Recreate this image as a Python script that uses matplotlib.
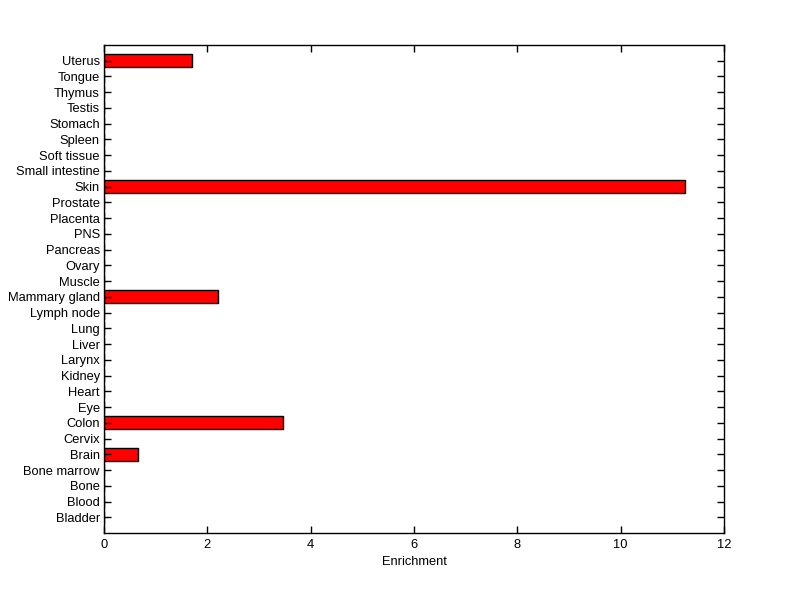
import matplotlib
matplotlib.use("Agg")
import matplotlib.pyplot as plt

categories = ["Bladder", "Blood", "Bone", "Bone marrow", "Brain", "Cervix", "Colon", "Eye",
              "Heart", "Kidney", "Larynx", "Liver", "Lung", "Lymph node", "Mammary gland",
              "Muscle", "Ovary", "Pancreas", "PNS", "Placenta", "Prostate", "Skin",
              "Small intestine", "Soft tissue", "Spleen", "Stomach", "Testis", "Thymus",
              "Tongue", "Uterus"]
values = [0, 0, 0, 0, 0.66, 0, 3.46, 0, 0, 0, 0, 0, 0, 0, 2.21,
          0, 0, 0, 0, 0, 0, 11.25, 0, 0, 0, 0, 0, 0, 0, 1.71]
xticks = [0, 2, 4, 6, 8, 10, 12]

plt.rcParams['font.family'] = ['Liberation Sans', 'DejaVu Sans']
fig = plt.figure(figsize=(8, 5.99), dpi=100)
ax = fig.add_axes([0.13, 0.11, 0.775, 0.815])
pos = list(range(1, len(categories) + 1))
ax.barh(pos, values, height=0.82, color='#ff0000', edgecolor='black', linewidth=1)
ax.set_xlim(0, 12)
ax.set_ylim(0, len(categories) + 1)
ax.set_yticks(pos)
ax.set_yticklabels(categories, fontsize=9.3)
ax.set_xticks(xticks)
ax.set_xticklabels([str(x) for x in xticks], fontsize=9.3)
ax.set_xlabel("Enrichment", fontsize=9.3, labelpad=4)
ax.tick_params(direction='in', length=5, width=1, top=True, right=True, pad=4)
ax.tick_params(axis='y', pad=3)
for s in ax.spines.values():
    s.set_linewidth(1)
fig.savefig("out.png", dpi=100)
